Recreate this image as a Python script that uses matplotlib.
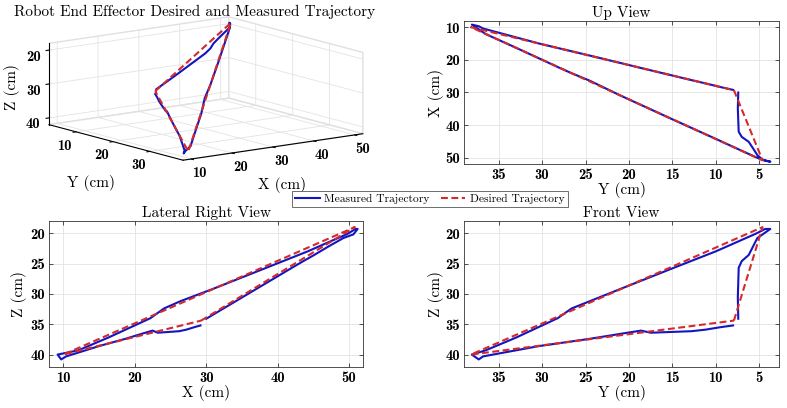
import matplotlib.pyplot as plt
import numpy as np

plt.rcParams['font.family'] = 'cmb10'
plt.rcParams['axes.unicode_minus'] = False

# desired trajectory (cm)
des_x = [29.3, 50.8, 10.0, 29.3]
des_y = [7.9, 4.6, 38.2, 7.9]
des_z = [34.4, 19.0, 40.0, 34.4]

# measured trajectory (cm)
meas_x = [30.0, 35.0, 42.0, 43.6, 45.1, 47.1, 49.2, 50.6, 51.2, 50.9,
          49.8, 44.2, 38.2, 30.9, 26.4, 24.1, 22.2, 16.3, 12.1,
          9.2, 9.7, 10.4,
          15.0, 18.7, 21.2, 22.5, 23.2, 26.2, 27.2, 28.3, 29.2]
meas_y = [7.40, 7.45, 7.35, 7.00, 6.20, 5.70, 5.20, 4.60, 3.70, 4.30,
          5.4, 10.0, 15.0, 21.0, 24.5, 26.6, 28.2, 33.0, 36.5,
          38.1, 37.3, 36.8,
          30.35, 24.5, 20.6, 18.6, 17.5, 12.8, 11.2, 9.5, 8.0]
meas_z = [34.1, 30.6, 25.7, 24.6, 23.6, 22.2, 20.8, 20.2, 19.3, 19.3,
          20.1, 23.0, 25.8, 29.2, 31.2, 32.4, 34.0, 37.2, 39.3,
          40.0, 40.8, 40.3,
          38.6, 37.4, 36.5, 36.05, 36.4, 36.15, 35.9, 35.5, 35.2]

xlim = (8, 52)
ylim = (39, 2.7)
zlim = (42, 18)

blue = '#1414c0'
red = '#d42a2a'
dash = (0, (3.3, 1.7))
txt = dict(family='cmr10', fontsize=11)
tick_size = 10.5

fig = plt.figure(figsize=(7.87, 4.08), dpi=100)


def style2d(ax):
    ax.grid(True, color='#e3e3e3', linewidth=0.6)
    ax.set_axisbelow(True)
    ax.tick_params(direction='in', length=3, top=True, right=True,
                   labelsize=tick_size, width=0.6, color='#333333', pad=3)
    for s in ax.spines.values():
        s.set_linewidth(0.6)
        s.set_color('#333333')


# 3D view
ax3 = fig.add_axes([-0.012, 0.516, 0.54, 0.52], projection='3d')
ax3.plot(meas_x, meas_y, meas_z, color=blue, lw=1.5)
ax3.plot(des_x, des_y, des_z, color=red, lw=1.5, ls=dash)
ax3.set_xlim(*xlim)
ax3.set_ylim(*ylim)
ax3.set_zlim(*zlim)
ax3.set_xticks([10, 20, 30, 40, 50])
ax3.set_yticks([10, 20, 30])
ax3.set_zticks([20, 30, 40])
ax3.set_proj_type('ortho')
ax3.view_init(elev=11.4, azim=-126.7)
ax3.set_box_aspect((1.0, 1, 0.37), zoom=1.5)
for a in (ax3.xaxis, ax3.yaxis, ax3.zaxis):
    a.set_pane_color((1, 1, 1, 1))
    a.pane.set_edgecolor('#e0e0e0')
    a._axinfo['grid']['color'] = '#e3e3e3'
    a._axinfo['grid']['linewidth'] = 0.6
    a._axinfo['tick']['inward_factor'] = 0.2
    a._axinfo['tick']['outward_factor'] = 0.0
ax3.tick_params(labelsize=tick_size)
ax3.tick_params(axis='x', pad=-3)
ax3.tick_params(axis='y', pad=-3)
ax3.tick_params(axis='z', pad=-4)
fig.text(282 / 787, 1 - 185 / 408, 'X (cm)', ha='center', va='center', **txt)
fig.text(91 / 787, 1 - 183 / 408, 'Y (cm)', ha='center', va='center', **txt)
fig.text(12 / 787, 1 - 87 / 408, 'Z (cm)', ha='center', va='center', rotation=90, **txt)
fig.text(195 / 787, 1 - 12 / 408, 'Robot End Effector Desired and Measured Trajectory',
         ha='center', va='center', **txt)

# Up view
ax_up = fig.add_axes([0.5896, 0.5973, 0.4003, 0.352])
ax_up.plot(meas_y, meas_x, color=blue, lw=1.5)
ax_up.plot(des_y, des_x, color=red, lw=1.5, ls=dash)
ax_up.set_xlim(*ylim)
ax_up.set_ylim(xlim[1], xlim[0])
ax_up.set_xticks([35, 30, 25, 20, 15, 10, 5])
ax_up.set_yticks([10, 20, 30, 40, 50])
ax_up.set_title('Up View', pad=3, **txt)
ax_up.set_xlabel('Y (cm)', labelpad=0, **txt)
ax_up.set_ylabel('X (cm)', labelpad=1, **txt)
style2d(ax_up)

# Lateral right view
ax_lat = fig.add_axes([0.0623, 0.1012, 0.3994, 0.357])
l1, = ax_lat.plot(meas_x, meas_z, color=blue, lw=1.5)
l2, = ax_lat.plot(des_x, des_z, color=red, lw=1.5, ls=dash)
ax_lat.set_xlim(*xlim)
ax_lat.set_ylim(*zlim)
ax_lat.set_xticks([10, 20, 30, 40, 50])
ax_lat.set_yticks([20, 25, 30, 35, 40])
ax_lat.set_title('Lateral Right View', pad=3, **txt)
ax_lat.set_xlabel('X (cm)', labelpad=0, **txt)
ax_lat.set_ylabel('Z (cm)', labelpad=2, **txt)
style2d(ax_lat)

# Front view
ax_fr = fig.add_axes([0.5896, 0.1012, 0.4003, 0.357])
ax_fr.plot(meas_y, meas_z, color=blue, lw=1.5)
ax_fr.plot(des_y, des_z, color=red, lw=1.5, ls=dash)
ax_fr.set_xlim(*ylim)
ax_fr.set_ylim(*zlim)
ax_fr.set_xticks([35, 30, 25, 20, 15, 10, 5])
ax_fr.set_yticks([20, 25, 30, 35, 40])
ax_fr.set_title('Front View', pad=3, **txt)
ax_fr.set_xlabel('Y (cm)', labelpad=0, **txt)
ax_fr.set_ylabel('Z (cm)', labelpad=1, **txt)
style2d(ax_fr)

leg = fig.legend([l1, l2], ['Measured Trajectory', 'Desired Trajectory'],
                 loc='center', bbox_to_anchor=(430 / 787, 1 - 199 / 408), ncol=2,
                 prop={'family': 'cmr10', 'size': 8.3}, fancybox=False,
                 edgecolor='#555555', framealpha=1, handlelength=2.1,
                 columnspacing=1.0, handletextpad=0.4, borderpad=0.3)
leg.get_frame().set_linewidth(0.6)

fig.savefig('out.png', dpi=100)
